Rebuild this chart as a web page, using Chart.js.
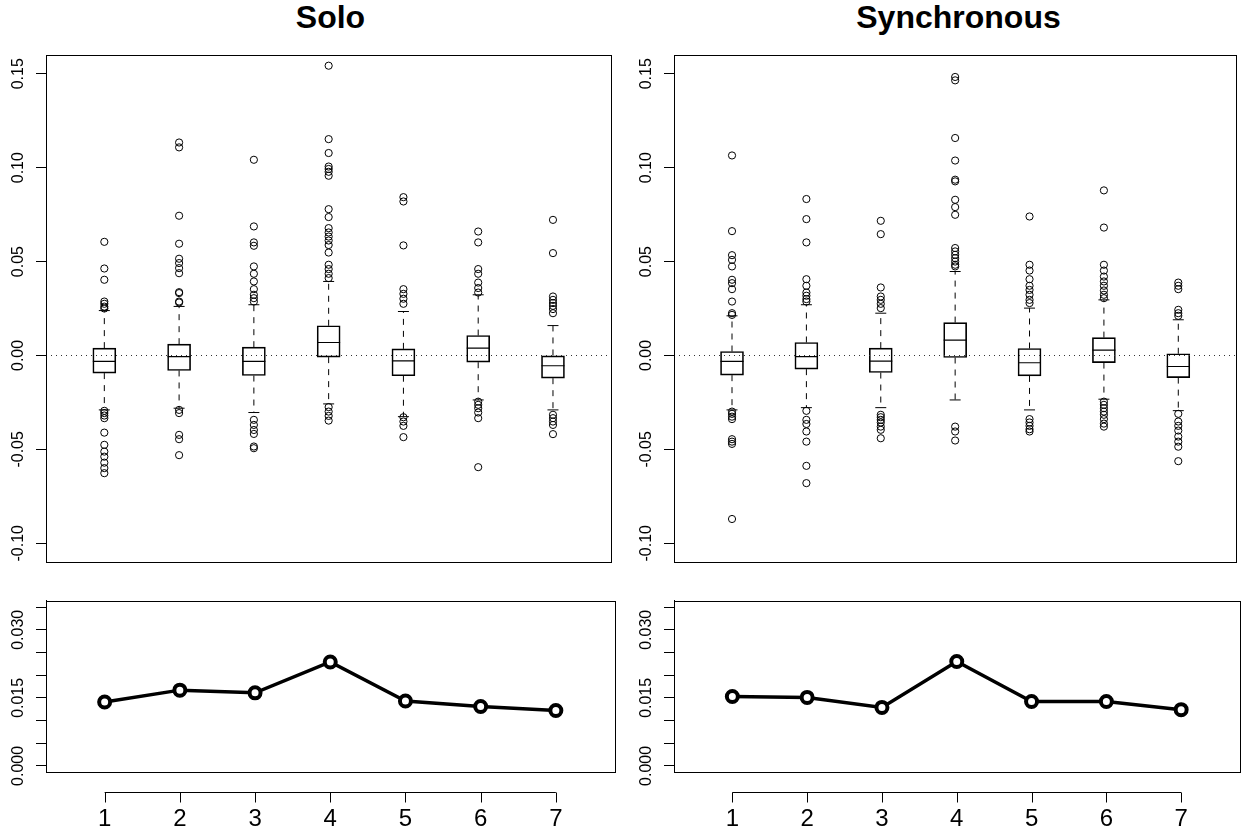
<!DOCTYPE html>
<html>
<head>
<meta charset="utf-8">
<title>Solo / Synchronous</title>
<script src="https://cdn.jsdelivr.net/npm/chart.js@4.4.1/dist/chart.umd.min.js"></script>
<style>
  html, body { margin: 0; padding: 0; background: #fff; }
  #wrap { position: relative; width: 1249px; height: 836px; overflow: hidden; }
  canvas { position: absolute; }
  .ttl { position: absolute; top: 1px; font: bold 32px 'Liberation Sans', Arial, sans-serif; line-height: 32px; text-align: center; color: #000; }
</style>
</head>
<body>
<div id="wrap">
  <div class="ttl" style="left:46px;width:569px">Solo</div>
  <div class="ttl" style="left:674px;width:569px">Synchronous</div>
  <canvas id="soloBox" width="624" height="580" style="left:0;top:0"></canvas>
  <canvas id="soloLine" width="624" height="256" style="left:0;top:580px"></canvas>
  <canvas id="syncBox" width="625" height="580" style="left:624px;top:0"></canvas>
  <canvas id="syncLine" width="625" height="256" style="left:624px;top:580px"></canvas>
</div>
<script>
const FONT = "'Liberation Sans', Arial, Helvetica, sans-serif";
Chart.defaults.font.family = FONT;
Chart.defaults.color = '#000';

// --- data ---
const groups = [1, 2, 3, 4, 5, 6, 7];
const xTickLabels = ['1', '2', '3', '4', '5', '6', '7'];

const boxYTicks = [-0.10, -0.05, 0, 0.05, 0.10, 0.15];
const boxYTickLabels = ['-0.10', '-0.05', '0.00', '0.05', '0.10', '0.15'];
const lineYTicks = [0, 0.005, 0.010, 0.015, 0.020, 0.025, 0.030, 0.035];
const lineYTickLabels = ['0.000', '', '', '0.015', '', '', '0.030', ''];

// Solo
const soloQ1 = [-0.0094, -0.0080, -0.0107, -0.0009, -0.0108, -0.0036, -0.0121];
const soloMed = [-0.0032, -0.0006, -0.0032, 0.0069, -0.0029, 0.0039, -0.0055];
const soloQ3 = [0.0039, 0.0060, 0.0044, 0.0158, 0.0035, 0.0106, 0.0000];
const soloLo = [-0.0290, -0.0281, -0.0304, -0.0258, -0.0326, -0.0237, -0.0290];
const soloHi = [0.0239, 0.0261, 0.0270, 0.0394, 0.0234, 0.0323, 0.0159];
const soloOut = [
  [0.0605, 0.0463, 0.0403, 0.0287, 0.0275, 0.0260, 0.0250, -0.0295, -0.0307, -0.0320, -0.0334, -0.0411, -0.0476, -0.0512, -0.0539, -0.0571, -0.0600, -0.0627],
  [0.1134, 0.1108, 0.0744, 0.0595, 0.0515, 0.0492, 0.0465, 0.0438, 0.0337, 0.0332, 0.0287, 0.0282, -0.0290, -0.0307, -0.0423, -0.0446, -0.0531],
  [0.1042, 0.0687, 0.0602, 0.0584, 0.0474, 0.0435, 0.0394, 0.0353, 0.0323, 0.0305, 0.0287, -0.0343, -0.0370, -0.0397, -0.0418, -0.0485, -0.0494],
  [0.1543, 0.1152, 0.1078, 0.1006, 0.0993, 0.0978, 0.0957, 0.0779, 0.0737, 0.0678, 0.0655, 0.0633, 0.0612, 0.0588, 0.0548, 0.0483, 0.0460, 0.0435, 0.0412, -0.0275, -0.0299, -0.0322, -0.0347],
  [0.0843, 0.0820, 0.0586, 0.0353, 0.0328, 0.0302, 0.0275, -0.0329, -0.0352, -0.0375, -0.0435],
  [0.0660, 0.0602, 0.0460, 0.0435, 0.0388, 0.0359, 0.0335, -0.0246, -0.0263, -0.0281, -0.0304, -0.0334, -0.0595],
  [0.0722, 0.0545, 0.0314, 0.0296, 0.0279, 0.0264, 0.0247, 0.0225, -0.0316, -0.0334, -0.0352, -0.0370, -0.0419]
];
const soloLine = [0.0141, 0.0167, 0.0161, 0.0229, 0.0143, 0.0131, 0.0122];

// Synchronous
const syncQ1 = [-0.0105, -0.0073, -0.0091, -0.0011, -0.0109, -0.0038, -0.0118];
const syncMed = [-0.0032, -0.0006, -0.0030, 0.0082, -0.0039, 0.0028, -0.0059];
const syncQ3 = [0.0021, 0.0069, 0.0039, 0.0175, 0.0037, 0.0095, 0.0009];
const syncLo = [-0.0290, -0.0278, -0.0278, -0.0237, -0.0290, -0.0233, -0.0294];
const syncHi = [0.0211, 0.0270, 0.0225, 0.0447, 0.0252, 0.0296, 0.0190];
const syncOut = [
  [0.1065, 0.0662, 0.0534, 0.0509, 0.0474, 0.0403, 0.0385, 0.0353, 0.0287, 0.0225, 0.0216, -0.0299, -0.0311, -0.0326, -0.0339, -0.0446, -0.0459, -0.0471, -0.0871],
  [0.0833, 0.0726, 0.0602, 0.0406, 0.0371, 0.0335, 0.0318, 0.0300, 0.0287, -0.0295, -0.0343, -0.0365, -0.0405, -0.0459, -0.0588, -0.0680],
  [0.0717, 0.0646, 0.0362, 0.0314, 0.0296, 0.0275, 0.0252, -0.0316, -0.0329, -0.0343, -0.0357, -0.0379, -0.0396, -0.0441],
  [0.1483, 0.1465, 0.1158, 0.1038, 0.0936, 0.0927, 0.0829, 0.0790, 0.0749, 0.0572, 0.0554, 0.0536, 0.0518, 0.0500, 0.0483, 0.0474, -0.0379, -0.0405, -0.0453],
  [0.0740, 0.0483, 0.0452, 0.0406, 0.0371, 0.0349, 0.0323, 0.0296, 0.0279, -0.0339, -0.0357, -0.0375, -0.0393, -0.0405],
  [0.0879, 0.0681, 0.0483, 0.0452, 0.0420, 0.0394, 0.0371, 0.0346, 0.0323, 0.0305, -0.0246, -0.0263, -0.0281, -0.0299, -0.0316, -0.0339, -0.0363, -0.0379],
  [0.0388, 0.0371, 0.0353, 0.0243, 0.0225, 0.0211, -0.0311, -0.0352, -0.0375, -0.0400, -0.0432, -0.0459, -0.0486, -0.0563]
];
const syncLine = [0.0153, 0.0151, 0.0129, 0.0230, 0.0142, 0.0142, 0.0124];

// axis ranges (R style: limits + 4%)
const xMin = 0.22, xMax = 7.78;
const boxYMin = -0.11, boxYMax = 0.16;
const lineYMin = -0.0014, lineYMax = 0.0364;

// plot frame, abline(h=0), rotated y labels, detached x axis
const rPlot = {
  id: 'rPlot',
  afterDatasetsDraw(chart, args, opts) {
    const { ctx, chartArea: a, scales } = chart;
    const al = v => Math.round(v) + 0.5;
    ctx.save();
    if (opts.zeroLine) {
      const y0 = al(scales.y.getPixelForValue(0));
      ctx.strokeStyle = '#333';
      ctx.lineWidth = 1;
      ctx.setLineDash([1, 4]);
      ctx.beginPath();
      ctx.moveTo(a.left, y0);
      ctx.lineTo(a.right, y0);
      ctx.stroke();
      ctx.setLineDash([]);
    }
    ctx.strokeStyle = '#000';
    ctx.lineWidth = 1;
    ctx.strokeRect(al(a.left), al(a.top), Math.round(a.right) - Math.round(a.left), Math.round(a.bottom) - Math.round(a.top));

    const ys = scales.y;
    ctx.fillStyle = '#000';
    ctx.font = '16px ' + FONT;
    ctx.textAlign = 'center';
    ctx.textBaseline = 'middle';
    ys.ticks.forEach(t => {
      if (!t.label) return;
      ctx.save();
      ctx.translate(a.left - 27.5, ys.getPixelForValue(t.value));
      ctx.rotate(-Math.PI / 2);
      ctx.fillText(t.label, 0, 0);
      ctx.restore();
    });

    if (opts.xAxisLine) {
      const xs = scales.x;
      const ay = al(a.bottom + 19.5);
      const first = xs.ticks[0].value;
      const last = xs.ticks[xs.ticks.length - 1].value;
      ctx.beginPath();
      ctx.moveTo(xs.getPixelForValue(first), ay);
      ctx.lineTo(xs.getPixelForValue(last), ay);
      xs.ticks.forEach(t => {
        const px = al(xs.getPixelForValue(t.value));
        ctx.moveTo(px, ay);
        ctx.lineTo(px, ay + 10);
      });
      ctx.stroke();
    }
    ctx.restore();
  }
};

function yAxis(min, max, ticks, labels, width) {
  return {
    type: 'linear',
    min: min,
    max: max,
    beginAtZero: false,
    afterBuildTicks: s => { s.ticks = ticks.map(v => ({ value: v })); },
    afterFit: s => { s.width = width; },
    ticks: { display: false, callback: (v, i) => labels[i] },
    grid: { drawOnChartArea: false, drawTicks: true, tickLength: 10, color: '#000', lineWidth: 1 },
    border: { display: true, color: '#000', width: 1 }
  };
}

function boxChart(id, q1, med, q3, lo, hi, out, yWidth, padRight) {
  const whiskers = [];
  groups.forEach((g, i) => {
    whiskers.push({ x: g, y: q3[i] }, { x: g, y: hi[i] }, { x: g, y: null },
                  { x: g, y: q1[i] }, { x: g, y: lo[i] }, { x: g, y: null });
  });
  const caps = groups.flatMap((g, i) => [{ x: g, y: lo[i] }, { x: g, y: hi[i] }]);
  const meds = groups.map((g, i) => ({ x: g, y: med[i] }));
  const pts = groups.flatMap((g, i) => out[i].map(v => ({ x: g, y: v })));

  new Chart(document.getElementById(id), {
    type: 'bar',
    data: {
      datasets: [
        {
          type: 'line',
          data: whiskers,
          borderColor: '#000',
          borderWidth: 1,
          borderDash: [6, 6],
          pointRadius: 0,
          spanGaps: false
        },
        {
          type: 'bar',
          data: groups.map((g, i) => ({ x: g, y: [q1[i], q3[i]] })),
          backgroundColor: 'rgba(0,0,0,0)',
          borderColor: '#000',
          borderWidth: 1,
          borderSkipped: false,
          barThickness: 23
        },
        {
          type: 'scatter',
          data: caps,
          pointStyle: 'line',
          pointRadius: 5.5,
          pointBorderWidth: 1,
          pointBorderColor: '#000',
          borderColor: '#000'
        },
        {
          type: 'scatter',
          data: meds,
          pointStyle: 'line',
          pointRadius: 11.5,
          pointBorderWidth: 1.2,
          pointBorderColor: '#000',
          borderColor: '#000'
        },
        {
          type: 'scatter',
          data: pts,
          pointStyle: 'circle',
          pointRadius: 3.6,
          pointBorderWidth: 1,
          pointBorderColor: '#000',
          pointBackgroundColor: 'rgba(0,0,0,0)',
          borderColor: '#000'
        }
      ]
    },
    options: {
      responsive: false,
      animation: false,
      events: [],
      layout: { padding: { left: 0, right: padRight, top: 55, bottom: 18 } },
      plugins: { legend: { display: false }, tooltip: { enabled: false }, rPlot: { zeroLine: true, xAxisLine: false } },
      scales: {
        x: { type: 'linear', min: xMin, max: xMax, offset: false, display: false },
        y: yAxis(boxYMin, boxYMax, boxYTicks, boxYTickLabels, yWidth)
      }
    },
    plugins: [rPlot]
  });
}

function lineChart(id, values, yWidth, padRight) {
  new Chart(document.getElementById(id), {
    type: 'line',
    data: {
      datasets: [{
        data: groups.map((g, i) => ({ x: g, y: values[i] })),
        borderColor: '#000',
        borderWidth: 3.5,
        pointRadius: 5.5,
        pointBorderWidth: 4,
        pointBorderColor: '#000',
        pointBackgroundColor: '#fff'
      }]
    },
    options: {
      responsive: false,
      animation: false,
      events: [],
      layout: { padding: { left: 0, right: padRight, top: 20.7, bottom: 0 } },
      plugins: { legend: { display: false }, tooltip: { enabled: false }, rPlot: { zeroLine: false, xAxisLine: true } },
      scales: {
        x: {
          type: 'linear',
          min: xMin,
          max: xMax,
          offset: false,
          afterBuildTicks: s => { s.ticks = groups.map(v => ({ value: v })); },
          afterFit: s => { s.height = 63.7; },
          ticks: { font: { size: 24 }, padding: 33, autoSkip: false, maxRotation: 0, callback: (v, i) => xTickLabels[i] },
          grid: { display: false, drawTicks: false },
          border: { display: false }
        },
        y: yAxis(lineYMin, lineYMax, lineYTicks, lineYTickLabels, yWidth)
      }
    },
    plugins: [rPlot]
  });
}

boxChart('soloBox', soloQ1, soloMed, soloQ3, soloLo, soloHi, soloOut, 46, 9);
lineChart('soloLine', soloLine, 46, 9);
boxChart('syncBox', syncQ1, syncMed, syncQ3, syncLo, syncHi, syncOut, 50, 5.7);
lineChart('syncLine', syncLine, 50, 5.7);
</script>
</body>
</html>
